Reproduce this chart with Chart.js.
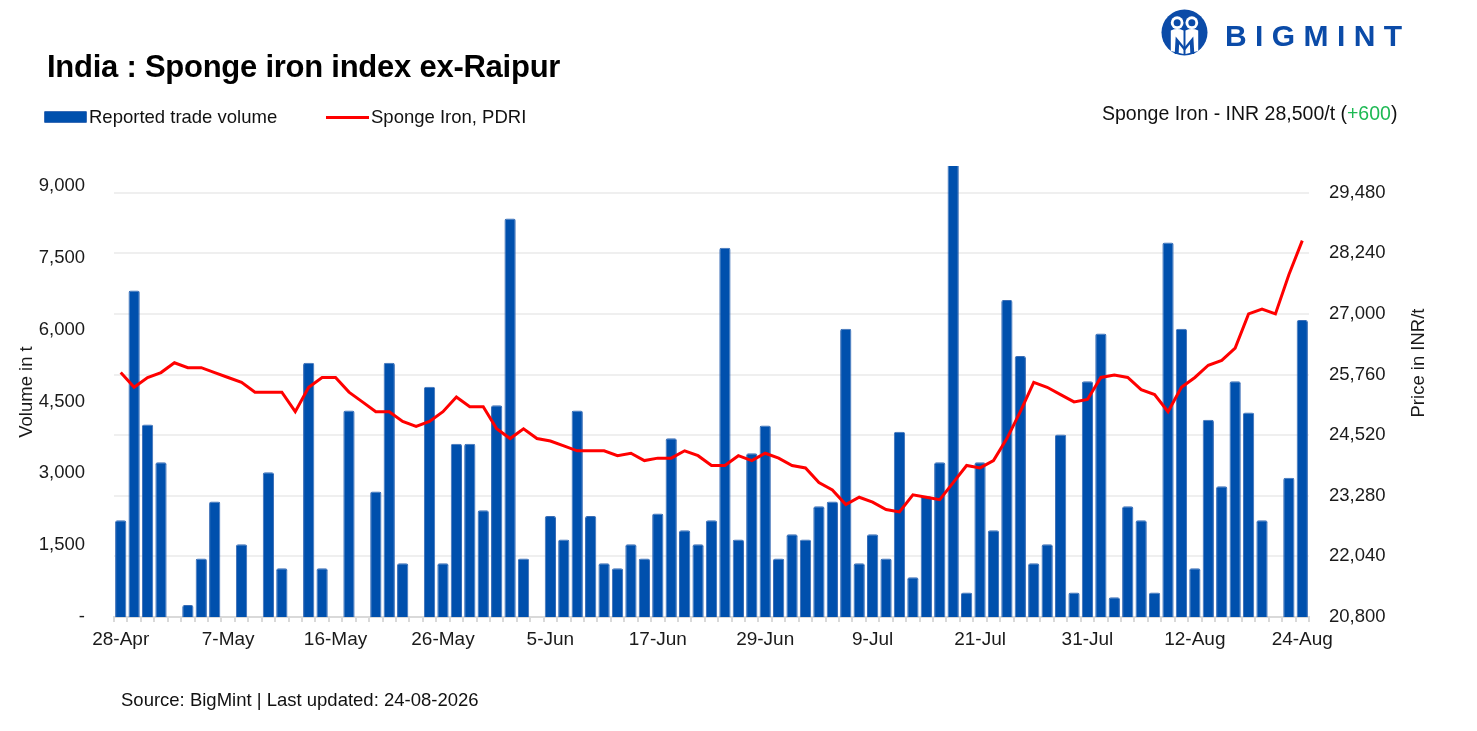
<!DOCTYPE html>
<html>
<head>
<meta charset="utf-8">
<script src="https://cdn.jsdelivr.net/npm/chart.js@4"></script>
<style>
  body { margin: 0; background: #fff; font-family: "Liberation Sans", Arial, sans-serif; color: #111; }
  #wrap { position: relative; width: 1477px; height: 731px; overflow: hidden; }
  #chart { position: absolute; left: 0; top: 0; }
  .txt { position: absolute; line-height: 1; white-space: nowrap; }
  #title { left: 47px; top: 51px; font-size: 31px; font-weight: bold; letter-spacing: -0.25px; color: #000; }
  .leg { top: 108px; font-size: 18.5px; color: #111; }
  .swatch { position: absolute; }
  #price { left: 1102px; top: 104px; font-size: 19.5px; color: #111; }
  #price span { color: #1db954; }
  #source { left: 121px; top: 691px; font-size: 18.5px; color: #111; }
  #logo { position: absolute; left: 1161px; top: 9px; }
  #brand { left: 1225px; top: 21px; font-size: 30px; font-weight: bold; letter-spacing: 8.4px; color: #0b4ba8; }
</style>
</head>
<body>
<div id="wrap">
  <canvas id="chart" width="1477" height="731"></canvas>
  <div id="title" class="txt">India : Sponge iron index ex-Raipur</div>

  <div class="swatch" style="left:44px;top:111px;width:43px;height:12px;background:#0050ad;border:1px solid #3a6db6;box-sizing:border-box;border-radius:1px;"></div>
  <div class="txt leg" style="left:89px;">Reported trade volume</div>
  <div class="swatch" style="left:326px;top:116px;width:43px;height:3px;background:#ff0000;"></div>
  <div class="txt leg" style="left:371px;">Sponge Iron, PDRI</div>

  <div id="price" class="txt">Sponge Iron - INR 28,500/t (<span>+600</span>)</div>
  <div id="source" class="txt">Source: BigMint | Last updated: 24-08-2026</div>

  <svg id="logo" width="47" height="47" viewBox="-24 -24 48 48">
    <circle r="23.5" fill="#0b4ba8"/>
    <circle cx="-7.5" cy="-10" r="6.5" fill="#fff"/>
    <circle cx="7.5" cy="-10" r="6.5" fill="#fff"/>
    <circle cx="-7.5" cy="-10" r="3.6" fill="#0b4ba8"/>
    <circle cx="7.5" cy="-10" r="3.6" fill="#0b4ba8"/>
    <path d="M-14 -2 Q-7.5 -5 -1 -2 L-1 22 L-14 19 Z" fill="#fff"/>
    <path d="M14 -2 Q7.5 -5 1 -2 L1 22 L14 19 Z" fill="#fff"/>
    <path d="M-10 22 L-9 4 L0 15 L9 4 L10 22 L6 22 L5.5 12 L0 19 L-5.5 12 L-6 22 Z" fill="#0b4ba8"/>
  </svg>
  <div id="brand" class="txt">BIGMINT</div>
</div>

<script>
// dates (Mon-Sat trading days), one label shown every 8 days
const dates = ['28-Apr','29-Apr','30-Apr','1-May','2-May','4-May','5-May','6-May','7-May','8-May',
  '9-May','11-May','12-May','13-May','14-May','15-May','16-May','18-May','19-May','20-May',
  '21-May','22-May','23-May','25-May','26-May','27-May','28-May','29-May','1-Jun','2-Jun',
  '3-Jun','4-Jun','5-Jun','8-Jun','9-Jun','10-Jun','11-Jun','12-Jun','15-Jun','16-Jun',
  '17-Jun','18-Jun','19-Jun','22-Jun','23-Jun','24-Jun','25-Jun','26-Jun','29-Jun','30-Jun',
  '1-Jul','2-Jul','3-Jul','6-Jul','7-Jul','8-Jul','9-Jul','10-Jul','13-Jul','14-Jul',
  '15-Jul','16-Jul','17-Jul','20-Jul','21-Jul','22-Jul','23-Jul','24-Jul','27-Jul','28-Jul',
  '29-Jul','30-Jul','31-Jul','3-Aug','4-Aug','5-Aug','6-Aug','7-Aug','10-Aug','11-Aug',
  '12-Aug','13-Aug','14-Aug','17-Aug','18-Aug','19-Aug','20-Aug','21-Aug','24-Aug'];

// reported trade volume, t (null = no trade)
const volume = [2020,6820,4020,3230,null,250,1220,2410,null,1520,
  null,3020,1020,null,5310,1020,null,4310,null,2620,
  5310,1120,null,4810,1120,3620,3620,2230,4420,8320,
  1220,null,2110,1620,4310,2110,1120,1020,1520,1220,
  2160,3730,1810,1520,2020,7710,1620,3420,4000,1220,
  1730,1620,2310,2410,6020,1120,1730,1220,3870,830,
  2520,3230,9600,510,3230,1810,6620,5450,1120,1520,
  3810,510,4920,5920,410,2310,2020,510,7820,6020,
  1020,4120,2730,4920,4270,2020,null,2910,6200];

// Sponge Iron PDRI, INR/t
const price = [25800,25500,25700,25800,26000,25900,25900,25800,25700,25600,
  25400,25400,25400,25000,25500,25700,25700,25400,25200,25000,
  25000,24800,24700,24800,25000,25300,25100,25100,24650,24450,
  24650,24450,24400,24300,24200,24200,24200,24100,24150,24000,
  24050,24050,24200,24100,23900,23900,24100,24000,24150,24050,
  23900,23850,23550,23400,23100,23250,23150,23000,22950,23300,
  23250,23200,23550,23900,23850,24000,24450,25000,25600,25500,
  25350,25200,25250,25700,25750,25700,25450,25350,25000,25500,
  25700,25950,26050,26300,27000,27100,27000,27800,28500];

const volumeTicks = [0,1500,3000,4500,6000,7500,9000];
const priceTicks = [20800,22040,23280,24520,25760,27000,28240,29480];

Chart.defaults.font.family = '"Liberation Sans", Arial, sans-serif';
Chart.defaults.color = '#1a1a1a';

const axisTitles = {
  id: 'axisTitles',
  afterDraw(chart) {
    const c = chart.ctx;
    c.save();
    c.fillStyle = '#1a1a1a';
    c.font = '18.5px "Liberation Sans", Arial, sans-serif';
    c.textAlign = 'center';
    c.textBaseline = 'middle';
    [['Volume in t', 27, 392], ['Price in INR/t', 1419, 363]].forEach(function(t){
      c.save();
      c.translate(t[1], t[2]);
      c.rotate(-Math.PI / 2);
      c.fillText(t[0], 0, 0);
      c.restore();
    });
    c.restore();
  }
};

const fmt = v => v.toLocaleString('en-US');

new Chart(document.getElementById('chart'), {
  type: 'bar',
  data: {
    labels: dates,
    datasets: [
      {
        type: 'line',
        label: 'Sponge Iron, PDRI',
        data: price,
        yAxisID: 'y1',
        borderColor: '#ff0000',
        borderWidth: 3,
        pointRadius: 0,
        tension: 0,
        order: 1
      },
      {
        type: 'bar',
        label: 'Reported trade volume',
        data: volume,
        yAxisID: 'y',
        backgroundColor: '#0050ad',
        borderColor: '#3a6db6',
        borderWidth: 1,
        borderRadius: 2,
        borderSkipped: 'start',
        categoryPercentage: 1,
        barPercentage: 0.84,
        order: 2
      }
    ]
  },
  options: {
    responsive: false,
    animation: false,
    layout: { padding: { top: 166, left: 0, right: 0, bottom: 0 } },
    plugins: { legend: { display: false }, tooltip: { enabled: false } },
    scales: {
      x: {
        offset: true,
        grid: { offset: true, drawOnChartArea: false, drawTicks: true, tickLength: 5, color: '#d9d9d9', lineWidth: 2 },
        border: { color: '#d9d9d9', width: 2 },
        ticks: {
          autoSkip: false, maxRotation: 0, padding: 6,
          font: { size: 19 },
          callback: function(v, i) { return i % 8 === 0 ? dates[i] : ''; }
        },
        afterFit: function(s) { s.height = 114; }
      },
      y: {
        position: 'left',
        min: 0, max: 9417,
        grid: { display: false },
        border: { display: false },
        ticks: { padding: 21, font: { size: 18.5 }, callback: v => v === 0 ? '-' : fmt(v) },
        afterBuildTicks: function(s) { s.ticks = volumeTicks.map(v => ({ value: v })); },
        afterFit: function(s) { s.width = 114; }
      },
      y1: {
        position: 'right',
        min: 20800, max: 30026,
        grid: { color: '#efefef', lineWidth: 2, drawTicks: false },
        border: { display: false },
        ticks: { padding: 20, font: { size: 18.5 }, callback: v => fmt(v) },
        afterBuildTicks: function(s) { s.ticks = priceTicks.map(v => ({ value: v })); },
        afterFit: function(s) { s.width = 168; }
      }
    }
  },
  plugins: [axisTitles]
});
</script>
</body>
</html>
